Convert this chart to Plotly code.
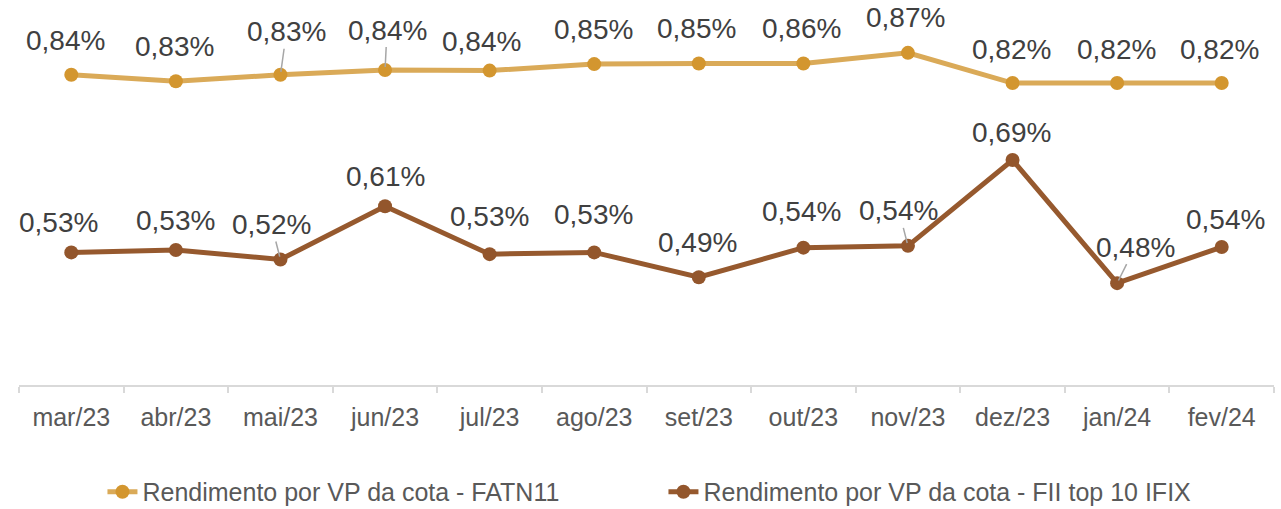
import plotly.graph_objects as go

months = ["mar/23", "abr/23", "mai/23", "jun/23", "jul/23", "ago/23",
          "set/23", "out/23", "nov/23", "dez/23", "jan/24", "fev/24"]

fatn11 = [0.834, 0.823, 0.834, 0.842, 0.841, 0.852,
          0.853, 0.853, 0.871, 0.820, 0.820, 0.820]
fatn11_labels = ["0,84%", "0,83%", "0,83%", "0,84%", "0,84%", "0,85%",
                 "0,85%", "0,86%", "0,87%", "0,82%", "0,82%", "0,82%"]

top10 = [0.534, 0.538, 0.522, 0.612, 0.531, 0.534,
         0.492, 0.542, 0.545, 0.690, 0.482, 0.543]
top10_labels = ["0,53%", "0,53%", "0,52%", "0,61%", "0,53%", "0,53%",
                "0,49%", "0,54%", "0,54%", "0,69%", "0,48%", "0,54%"]

name_a = "Rendimento por VP da cota - FATN11"
name_b = "Rendimento por VP da cota - FII top 10 IFIX"

# label offsets (px) and leader-line flags (style only)
off_a = [(-6, -34), (-1, -35), (6, -43), (2, -40), (-8, -29), (-1, -35),
         (-2, -35), (-2, -35), (-2, -35), (-1, -34), (-1, -34), (-2, -34)]
lead_a = [False, False, True, True, False, False, False, False, False, False, False, False]
off_b = [(-13, -30), (0, -30), (-9, -35), (0, -30), (0, -38), (-1, -38),
         (-1, -35), (-2, -36), (-9, -35), (-1, -28), (18, -36), (4, -28)]
lead_b = [False, False, True, False, False, False, False, False, True, False, True, False]

FONT = "Liberation Sans, Arial, sans-serif"

fig = go.Figure()
fig.add_trace(go.Scatter(
    x=months, y=fatn11, mode="lines+markers", name=name_a,
    line=dict(color="#DAAA58", width=5),
    marker=dict(color="#D3962F", size=14),
))
fig.add_trace(go.Scatter(
    x=months, y=top10, mode="lines+markers", name=name_b,
    line=dict(color="#96592E", width=5),
    marker=dict(color="#93562C", size=14),
))

annotations = []
for xs, ys, labels, offs, leads in [(months, fatn11, fatn11_labels, off_a, lead_a),
                                     (months, top10, top10_labels, off_b, lead_b)]:
    for xv, yv, t, (dx, dy), ld in zip(xs, ys, labels, offs, leads):
        annotations.append(dict(
            x=xv, y=yv, xref="x", yref="y", text=t,
            showarrow=True, ax=dx, ay=dy, axref="pixel", ayref="pixel",
            arrowhead=0, arrowwidth=1.5, standoff=3,
            arrowcolor="#A6A6A6" if ld else "rgba(0,0,0,0)",
            font=dict(family=FONT, size=28, color="#404040"),
        ))

fig.update_layout(
    width=1281, height=509,
    margin=dict(l=19, r=7, t=20, b=124, autoexpand=False),
    paper_bgcolor="white", plot_bgcolor="white",
    font=dict(family=FONT, color="#595959"),
    annotations=annotations,
    showlegend=True,
    legend=dict(
        orientation="h", x=0.0665, y=-0.293, xanchor="left", yanchor="middle",
        font=dict(family=FONT, size=25, color="#595959"),
        entrywidth=516, entrywidthmode="pixels",
        bgcolor="rgba(0,0,0,0)",
    ),
)
fig.update_xaxes(
    type="category", range=[-0.5, 11.5], automargin=False,
    showline=True, linecolor="#D9D9D9", linewidth=1.5,
    ticks="outside", tickson="boundaries", ticklen=6, tickcolor="#D9D9D9", tickwidth=1.5,
    ticklabelstandoff=9,
    showgrid=False, tickfont=dict(family=FONT, size=25, color="#595959"),
)
fig.update_yaxes(
    range=[0.31, 0.9265], visible=False, showgrid=False, zeroline=False, automargin=False,
)

fig.write_html("out.html", config={"displayModeBar": False},
               post_script="document.body.style.margin='0';document.body.style.overflow='hidden';")
